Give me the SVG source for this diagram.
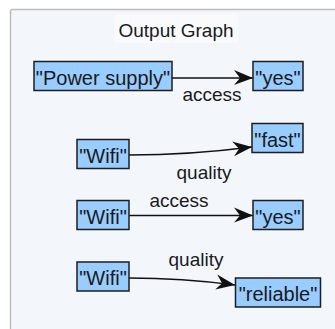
<svg xmlns="http://www.w3.org/2000/svg" width="335" height="329" viewBox="0 0 335 329">
  <style>
    .node rect { fill: #99ccff; stroke: #1e1e1e; stroke-width: 1.5; }
    .node text { font-family: "Liberation Sans", Arial, sans-serif; font-size: 20px; fill: #1a1a1a; text-anchor: middle; }
    .lbl { font-family: "Liberation Sans", Arial, sans-serif; font-size: 19px; fill: #1a1a1a; text-anchor: middle; }
    .edge { fill: none; stroke: #111; stroke-width: 1.6; marker-end: url(#ah); }
  </style>
  <defs>
    <marker id="ah" markerWidth="22" markerHeight="18" viewBox="-20 -9 22 18" refX="0" refY="0" orient="auto" markerUnits="userSpaceOnUse">
      <path d="M0,0 L-19,-8 L-13,0 L-19,7 Z" fill="#111"/>
    </marker>
  </defs>
  <rect x="0" y="0" width="335" height="329" fill="#ffffff"/>
  <g id="panel">
    <rect x="10.5" y="9.5" width="340" height="340" rx="2" fill="#f3f7fb" stroke="#bdbdbd" stroke-width="1.5"/>
    <rect x="115" y="14" width="123" height="29" fill="#f8fafd"/>
    <text x="176" y="37" class="lbl">Output Graph</text>
  </g>
  <g id="connectors">
    <path class="edge" d="M172,78 L253,78"/>
    <text class="lbl" x="212" y="101">access</text>
    <path class="edge" d="M129,155 Q190,155 252,147"/>
    <text class="lbl" x="204" y="179">quality</text>
    <path class="edge" d="M129,215.5 L253,215.5"/>
    <text class="lbl" x="179" y="207">access</text>
    <path class="edge" d="M129,278 Q182,278 235,285"/>
    <text class="lbl" x="196" y="266">quality</text>
  </g>
  <g id="n-power" class="node"><rect x="34" y="61.5" width="138" height="29"/><text x="103" y="84.5">"Power supply"</text></g>
  <g id="n-yes1" class="node"><rect x="253" y="61.5" width="50" height="29"/><text x="278" y="84.5">"yes"</text></g>
  <g id="n-wifi1" class="node"><rect x="77" y="139.5" width="52" height="29"/><text x="103" y="162.5">"Wifi"</text></g>
  <g id="n-fast" class="node"><rect x="252" y="123.5" width="51" height="29"/><text x="277.5" y="146.5">"fast"</text></g>
  <g id="n-wifi2" class="node"><rect x="77" y="200.5" width="52" height="29"/><text x="103" y="223.5">"Wifi"</text></g>
  <g id="n-yes2" class="node"><rect x="253" y="200.5" width="50" height="29"/><text x="278" y="223.5">"yes"</text></g>
  <g id="n-wifi3" class="node"><rect x="77" y="262" width="52" height="29"/><text x="103" y="285">"Wifi"</text></g>
  <g id="n-reliable" class="node"><rect x="235.5" y="278" width="85" height="29"/><text x="278" y="301">"reliable"</text></g>
</svg>
